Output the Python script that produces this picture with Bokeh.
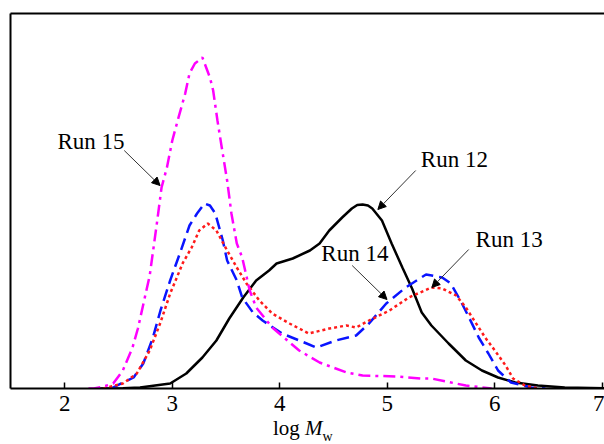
from bokeh.plotting import figure
from bokeh.models import Range1d, LinearAxis, FixedTicker, Label, Arrow, NormalHead, Div
from bokeh.layouts import column
from bokeh.embed import file_html
from bokeh.resources import INLINE

# ---- data (log Mw, relative distribution height) ----
run12_x = [2.30, 2.54, 2.70, 2.98, 3.13, 3.28, 3.41, 3.53, 3.66, 3.78, 3.90, 3.97, 4.12, 4.28, 4.37,
           4.46, 4.58, 4.67, 4.72, 4.77, 4.82, 4.86, 4.95, 5.04, 5.14, 5.23, 5.32, 5.41, 5.57, 5.73, 5.88,
           6.03, 6.19, 6.40, 6.65, 7.02]
run12_y = [0, 0.3, 1, 5, 15, 31, 48, 70, 91, 108, 118, 125, 130, 138, 145,
           158, 171, 180, 183.5, 184, 183, 180, 168, 145, 121, 100, 76, 63, 45, 28, 18,
           11, 6, 3, 1, 0.3]

run13_x = [2.36, 2.54, 2.67, 2.79, 2.89, 2.98, 3.10, 3.18, 3.25, 3.33, 3.41, 3.51, 3.60, 3.69,
           3.81, 3.93, 4.09, 4.27, 4.46, 4.62, 4.71, 4.83, 5.02, 5.20, 5.41, 5.51, 5.64, 5.73,
           5.82, 5.91, 6.00, 6.10, 6.17, 6.28, 6.40]
run13_y = [0, 5, 15, 38, 66, 95, 126, 141, 158, 165, 158, 138, 121, 105,
           88, 75, 65, 55, 60, 63, 61, 68, 78, 91, 101, 100, 93, 81,
           66, 51, 38, 23, 10, 3, 0]

run14_x = [2.43, 2.64, 2.73, 2.82, 2.89, 2.98, 3.07, 3.16, 3.23, 3.30, 3.35, 3.40, 3.47, 3.51,
           3.60, 3.65, 3.75, 3.84, 4.02, 4.25, 4.34, 4.52, 4.71, 4.83, 4.99, 5.17, 5.36, 5.51,
           5.59, 5.68, 5.76, 5.85, 5.94, 6.03, 6.15, 6.34, 6.47]
run14_y = [0, 11, 25, 51, 78, 108, 135, 163, 175, 185, 183, 175, 148, 128,
           108, 91, 76, 68, 55, 45, 41, 48, 53, 65, 85, 101, 114, 111,
           105, 88, 71, 51, 35, 18, 6, 1, 0]

run15_x = [2.22, 2.27, 2.36, 2.45, 2.54, 2.63, 2.68, 2.79, 2.86, 2.90, 2.95, 3.00, 3.05, 3.12,
           3.16, 3.21, 3.28, 3.35, 3.38, 3.42, 3.46, 3.51, 3.55, 3.60, 3.65, 3.72, 3.78, 3.93,
           4.18, 4.37, 4.62, 4.77, 5.08, 5.32, 5.41, 5.73, 5.97]
run15_y = [0, 0, 2, 5, 18, 41, 60, 113, 168, 201, 221, 248, 268, 295,
           315, 325, 331, 311, 298, 268, 241, 208, 175, 145, 131, 98, 81, 61,
           38, 26, 16, 13, 12, 10, 10, 3, 0]

x_ticks = [2, 3, 4, 5, 6, 7]

run_names = ["Run 15", "Run 12", "Run 13", "Run 14"]
label_x = [1.932, 5.312, 5.821, 4.386]
label_y = [247, 229, 149, 135]
arrow_start_x = [2.553, 5.264, 5.757, 4.673]
arrow_start_y = [238, 218, 139, 123]
arrow_end_x = [2.886, 4.912, 5.414, 4.997]
arrow_end_y = [203, 179, 101, 89]

FONT = "Liberation Serif"

p = figure(width=604, height=418, output_backend="svg", toolbar_location=None,
           x_range=Range1d(1.495, 7.02), y_range=Range1d(0, 375),
           y_axis_location=None, x_axis_location="below",
           min_border_left=10, min_border_right=0, min_border_top=13, min_border_bottom=30)
p.outline_line_color = None
p.grid.visible = False
p.background_fill_color = "white"
p.border_fill_color = "white"

xa = p.xaxis[0]
xa.ticker = FixedTicker(ticks=x_ticks)
xa.axis_line_width = 2
xa.axis_line_color = "black"
xa.major_tick_in = 6
xa.major_tick_out = 0
xa.major_tick_line_width = 1.5
xa.minor_tick_line_color = None
xa.major_label_text_font = FONT
xa.major_label_text_font_size = "23px"
xa.major_label_text_color = "black"
xa.major_label_standoff = 7

for loc in ["left", "above"]:
    ax = LinearAxis(ticker=FixedTicker(ticks=[]), axis_line_width=2, axis_line_color="black",
                    major_tick_in=0, major_tick_out=0, minor_tick_in=0, minor_tick_out=0,
                    major_label_standoff=0, major_label_text_font_size="0px")
    p.add_layout(ax, loc)

p.line(run12_x, run12_y, line_color="black", line_width=2.5)
p.line(run14_x, run14_y, line_color="#0a14ff", line_width=2.5, line_dash="12 6")
p.line(run13_x, run13_y, line_color="#ff1a1a", line_width=2.5, line_dash="3 3")
p.line(run15_x, run15_y, line_color="#ff00ff", line_width=2.5, line_dash="12 5 3 5")

for name, lx, ly in zip(run_names, label_x, label_y):
    p.add_layout(Label(x=lx, y=ly, text=name, text_font=FONT, text_font_size="23px",
                       text_color="black", text_baseline="alphabetic", text_align="left"))

for sx, sy, ex, ey in zip(arrow_start_x, arrow_start_y, arrow_end_x, arrow_end_y):
    p.add_layout(Arrow(x_start=sx, y_start=sy, x_end=ex, y_end=ey, line_width=1, line_color="#333333",
                       end=NormalHead(size=8, fill_color="black", line_color="black", line_width=1)))

title_html = ('<div style="font-family:\'Liberation Serif\',serif;font-size:21px;line-height:21px;'
              'color:black;padding-left:273px;white-space:nowrap;">'
              'log <i>M</i><span style="font-size:14px;position:relative;top:6px;">w</span></div>')
div = Div(text=title_html, width=604, height=26, margin=(0, 0, 0, 0))

layout = column(p, div, spacing=0)
open("out.html", "w").write(file_html(layout, INLINE))
